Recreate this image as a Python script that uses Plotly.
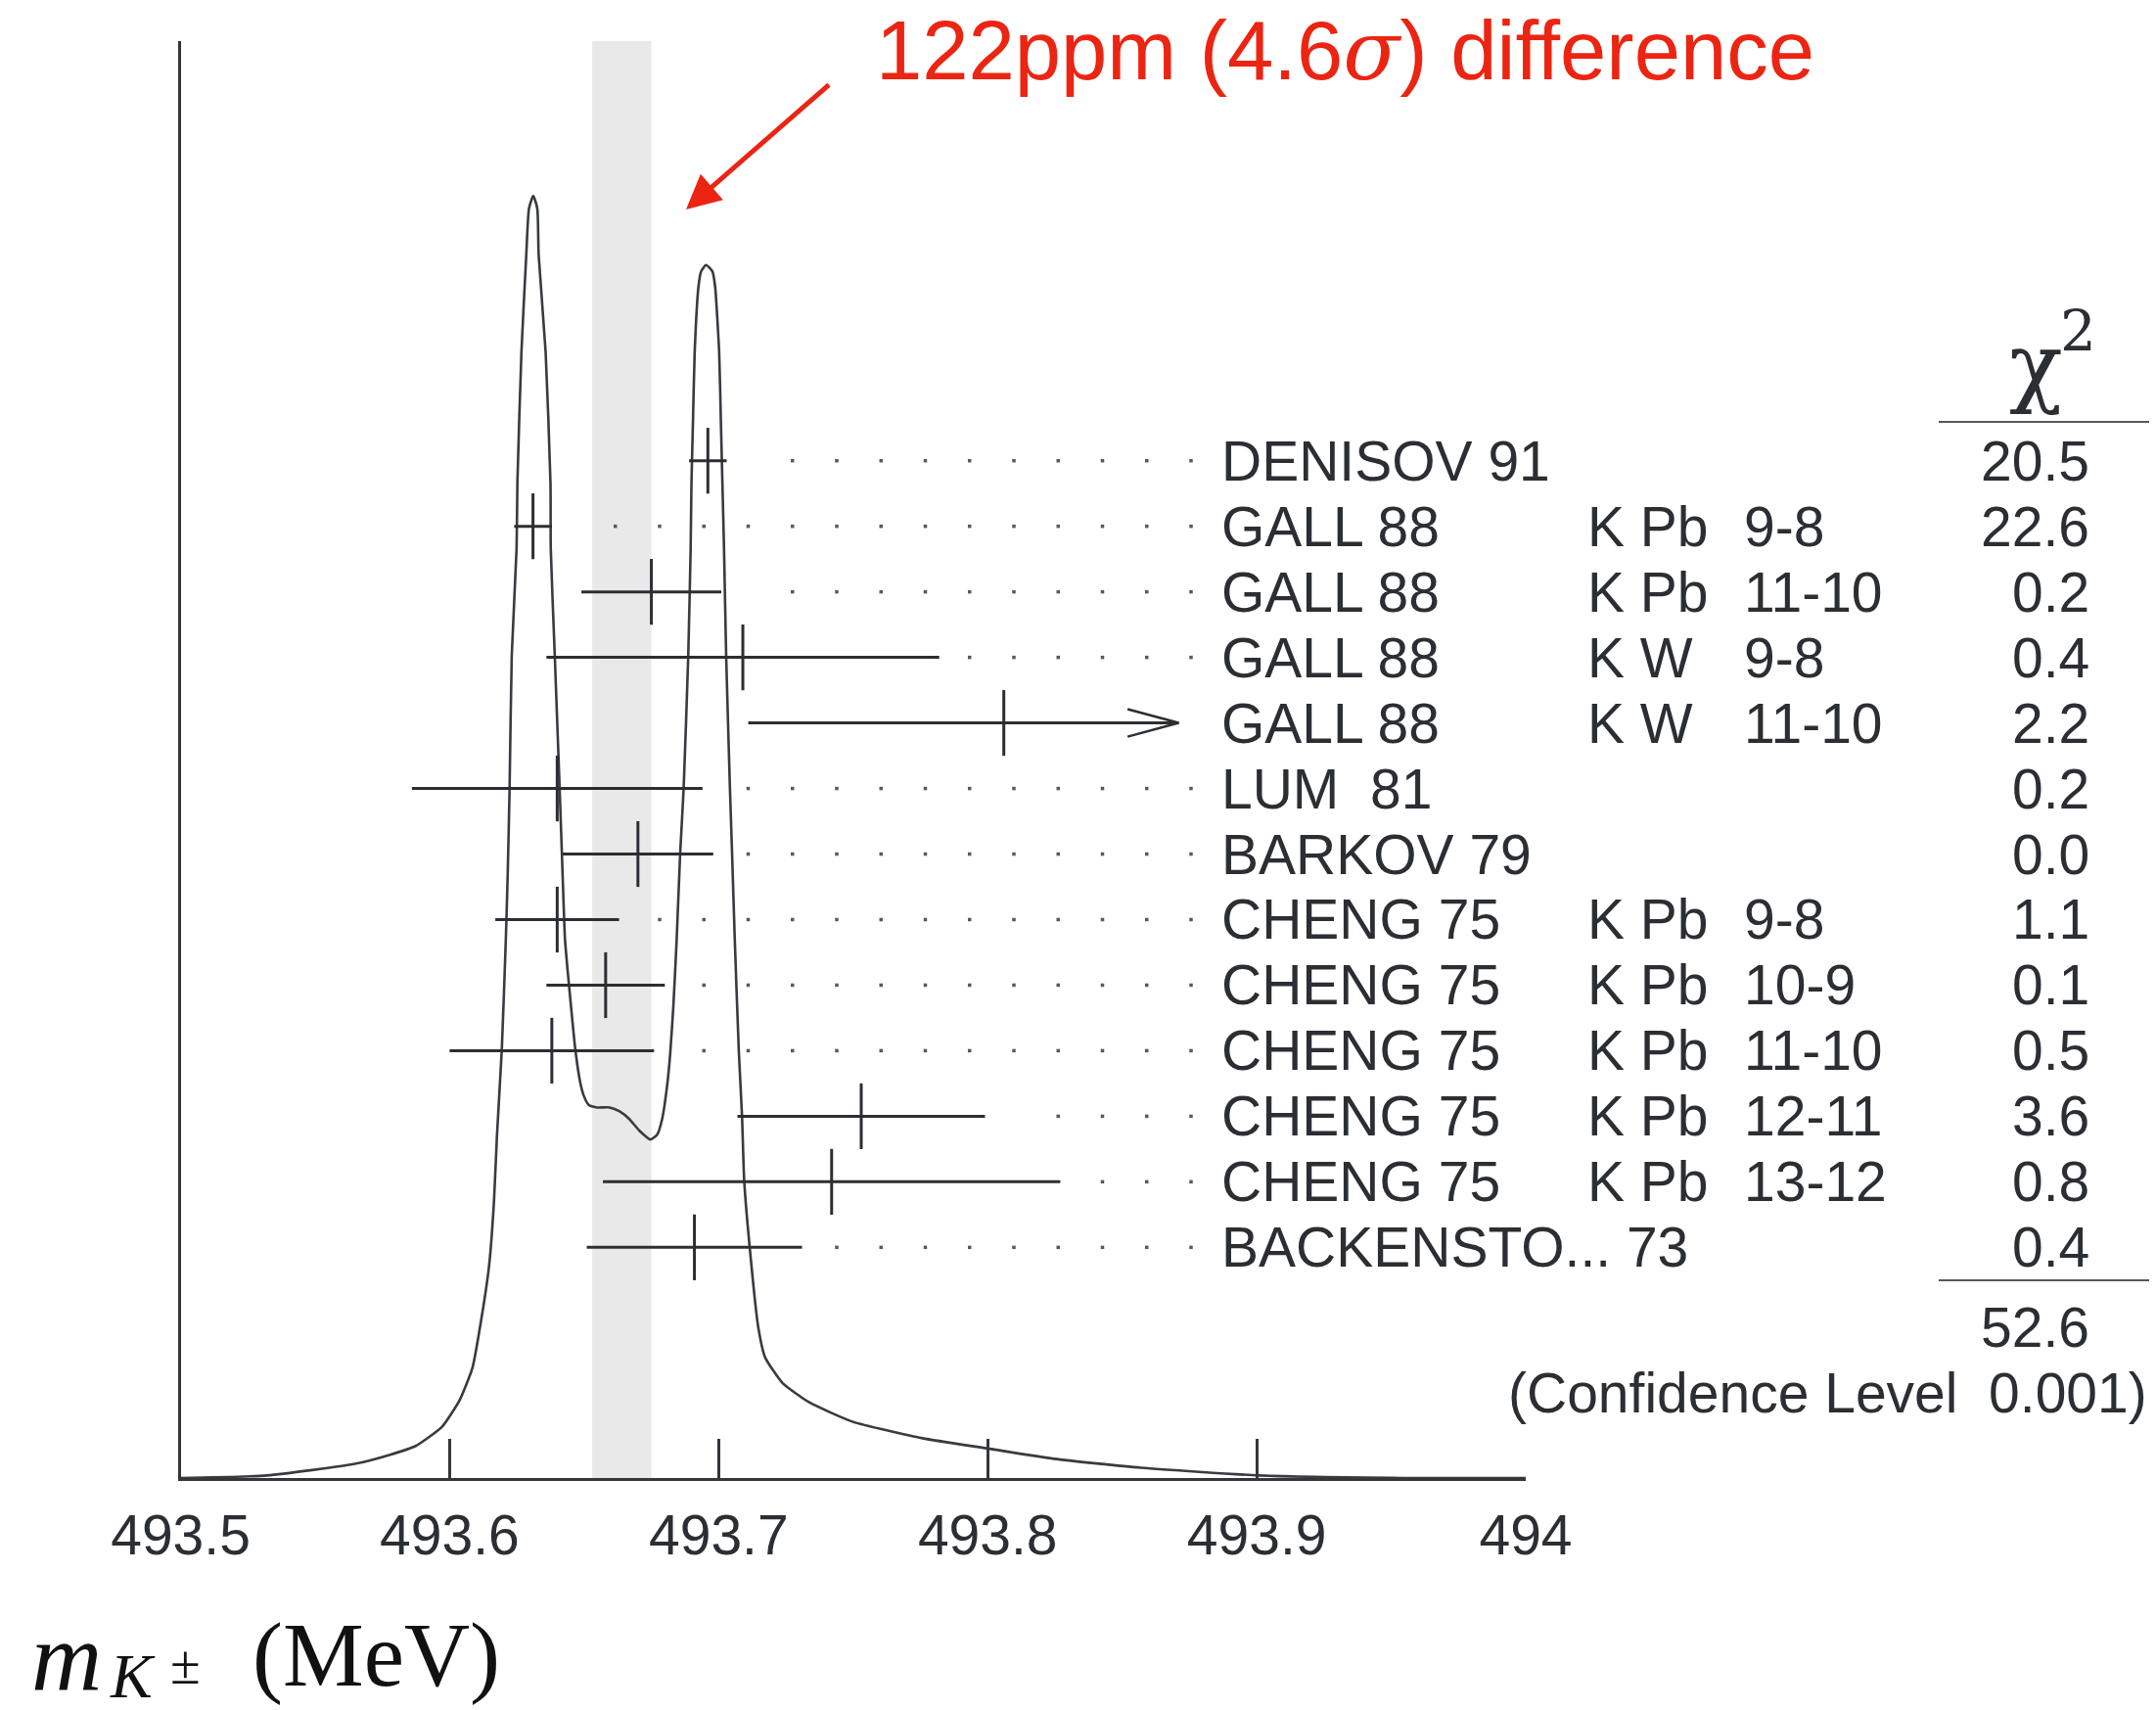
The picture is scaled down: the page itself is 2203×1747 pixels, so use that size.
import math
import plotly.graph_objects as go

# ---------------- measurements of the charged kaon mass ----------------
names = ["DENISOV 91", "GALL 88", "GALL 88", "GALL 88", "GALL 88", "LUM  81",
         "BARKOV 79", "CHENG 75", "CHENG 75", "CHENG 75", "CHENG 75", "CHENG 75",
         "BACKENSTO... 73"]
targets = ["", "K Pb", "K Pb", "K W", "K W", "", "", "K Pb", "K Pb", "K Pb",
           "K Pb", "K Pb", ""]
transitions = ["", "9-8", "11-10", "9-8", "11-10", "", "", "9-8", "10-9",
               "11-10", "12-11", "13-12", ""]
mass = [493.696, 493.631, 493.675, 493.709, 493.806, 493.640, 493.670,
        493.640, 493.658, 493.638, 493.753, 493.742, 493.691]
mass_err = [0.007, 0.007, 0.026, 0.073, 0.095, 0.054, 0.028,
            0.023, 0.022, 0.038, 0.046, 0.085, 0.040]
chi2 = ["20.5", "22.6", "0.2", "0.4", "2.2", "0.2", "0.0", "1.1", "0.1",
        "0.5", "3.6", "0.8", "0.4"]
chi2_total = "52.6"
confidence_level = "0.001"

# weighted average (shaded band)
avg_mass = 493.664
avg_err = 0.011

# ideogram curve (relative height, left peak = 1)
ideo_mass = [493.5000, 493.5321, 493.5647, 493.5776, 493.5874, 493.5972, 493.6038,
             493.6085, 493.6118, 493.6147, 493.6165, 493.6176, 493.6194, 493.6209,
             493.6216, 493.6223, 493.6231, 493.6249, 493.6252, 493.6267, 493.6285,
             493.6295, 493.6311, 493.6326, 493.6331, 493.6357, 493.6375, 493.6376,
             493.6391, 493.6409, 493.6420, 493.6429, 493.6444, 493.6468, 493.6486,
             493.6499, 493.6517, 493.6547, 493.6595, 493.6632, 493.6668, 493.6705,
             493.6747, 493.6772, 493.6790, 493.6808, 493.6820, 493.6832, 493.6844,
             493.6857, 493.6870, 493.6887, 493.6896, 493.6899, 493.6905, 493.6911,
             493.6925, 493.6935, 493.6953, 493.6977, 493.6987, 493.7002, 493.7008,
             493.7014, 493.7020, 493.7028, 493.7042, 493.7050, 493.7060, 493.7075,
             493.7087, 493.7095, 493.7115, 493.7147, 493.7173, 493.7238, 493.7337,
             493.7497, 493.7758, 493.8002, 493.8246, 493.8570, 493.9010, 493.9545,
             494.0000]
ideo_height = [0.000, 0.002, 0.011, 0.018, 0.025, 0.040, 0.061, 0.086, 0.124, 0.166,
               0.216, 0.267, 0.334, 0.420, 0.471, 0.538, 0.641, 0.725, 0.776, 0.878,
               0.954, 0.990, 1.000, 0.990, 0.954, 0.878, 0.776, 0.725, 0.641, 0.538,
               0.471, 0.420, 0.384, 0.333, 0.308, 0.298, 0.291, 0.289, 0.289, 0.286,
               0.280, 0.271, 0.264, 0.268, 0.280, 0.305, 0.331, 0.369, 0.420, 0.487,
               0.538, 0.641, 0.725, 0.776, 0.827, 0.878, 0.929, 0.941, 0.946, 0.941,
               0.929, 0.878, 0.827, 0.776, 0.725, 0.641, 0.538, 0.487, 0.420, 0.333,
               0.282, 0.232, 0.181, 0.118, 0.094, 0.074, 0.059, 0.044, 0.031, 0.023,
               0.015, 0.008, 0.002, 0.000, 0.000]

x_ticks = [493.5, 493.6, 493.7, 493.8, 493.9, 494.0]
x_tick_text = ["493.5", "493.6", "493.7", "493.8", "493.9", "494"]

note_text = "122ppm (4.6<span style=\"font-family:'DejaVu Serif'\"><i>σ</i></span>) difference"

# ---------------- layout helpers ----------------
W, H = 2203, 1747
INK = "#2b2e33"
RED = "#ec2412"
SANS = "Liberation Sans, Arial, Helvetica, sans-serif"
SERIF = "Liberation Serif, Times New Roman, serif"
DSERIF = "DejaVu Serif, serif"


def px(x):
    return x / W


def py(y):
    return 1 - y / H


X_DOMAIN = [px(184.5), px(1559.0)]
Y_DOMAIN = [py(1510), py(42)]
ROW0_Y, ROW_STEP = 470.7, 66.97           # pixel row geometry
ROW_RANGE = [(1510 - ROW0_Y) / ROW_STEP, (42 - ROW0_Y) / ROW_STEP]

BAR_CLIP = 493.871                        # bars beyond this end in an arrow
LEADER_ORIGIN, LEADER_STEP, LEADER_END = 493.6616, 0.016461, 493.876
LEADER_GAP = 0.011
rows = list(range(len(names)))

fig = go.Figure()

# ideogram
fig.add_trace(go.Scatter(
    x=ideo_mass, y=ideo_height, mode="lines",
    line=dict(color="#383b40", width=2.6, shape="spline", smoothing=0.5),
    hoverinfo="skip", showlegend=False))

# error bars with central ticks
err_plus = [min(e, BAR_CLIP - m) for m, e in zip(mass, mass_err)]
fig.add_trace(go.Scatter(
    x=mass, y=rows, yaxis="y2", mode="markers",
    marker=dict(symbol="line-ns", size=48, line=dict(width=3, color=INK), color=INK),
    error_x=dict(type="data", array=err_plus, arrayminus=mass_err,
                 symmetric=False, thickness=3, width=0, color=INK),
    hoverinfo="skip", showlegend=False))

# open arrowheads for clipped bars
chev_dx, chev_dy = 0.019, 0.21
cx, cy = [], []
for r, (m, e) in enumerate(zip(mass, mass_err)):
    if m + e > BAR_CLIP:
        cx += [BAR_CLIP - chev_dx, BAR_CLIP, BAR_CLIP - chev_dx, None]
        cy += [r - chev_dy, r, r + chev_dy, None]
fig.add_trace(go.Scatter(
    x=cx, y=cy, yaxis="y2", mode="lines", line=dict(color=INK, width=2.5),
    hoverinfo="skip", showlegend=False))

# dotted leaders towards the labels
k0 = math.ceil((493.5 - LEADER_ORIGIN) / LEADER_STEP)
k1 = math.floor((LEADER_END - LEADER_ORIGIN) / LEADER_STEP)
grid = [LEADER_ORIGIN + k * LEADER_STEP for k in range(k0, k1 + 1)]
dx, dy = [], []
for r, (m, e) in enumerate(zip(mass, mass_err)):
    for g in grid:
        if g >= m + e + LEADER_GAP:
            dx.append(g)
            dy.append(r)
fig.add_trace(go.Scatter(
    x=dx, y=dy, yaxis="y2", mode="markers",
    marker=dict(symbol="square", size=3.5, color="#555a60"),
    hoverinfo="skip", showlegend=False))

# weighted-average band
fig.add_shape(type="rect", xref="x", yref="paper",
              x0=avg_mass - avg_err, x1=avg_mass + avg_err,
              y0=Y_DOMAIN[0], y1=Y_DOMAIN[1],
              fillcolor="#e9e9e9", line=dict(width=0), layer="below")

# chi2 column rules
for yy in (431, 1308):
    fig.add_shape(type="line", xref="paper", yref="paper",
                  x0=px(1981), x1=px(2196), y0=py(yy), y1=py(yy),
                  line=dict(color="#55595e", width=2.2))

ann = []
for r in rows:
    ann.append(dict(x=px(1246), y=r, xref="paper", yref="y2", text=names[r],
                    xanchor="left", yanchor="middle", showarrow=False,
                    font=dict(family=SANS, size=57, color=INK)))
    if targets[r]:
        ann.append(dict(x=px(1620), y=r, xref="paper", yref="y2", text=targets[r],
                        xanchor="left", yanchor="middle", showarrow=False,
                        font=dict(family=SANS, size=57, color=INK)))
    if transitions[r]:
        ann.append(dict(x=px(1780), y=r, xref="paper", yref="y2", text=transitions[r],
                        xanchor="left", yanchor="middle", showarrow=False,
                        font=dict(family=SANS, size=57, color=INK)))
    ann.append(dict(x=px(2137), y=r, xref="paper", yref="y2", text=chi2[r],
                    xanchor="right", yanchor="middle", showarrow=False,
                    font=dict(family=SANS, size=57, color=INK)))

# chi2 header, total and confidence level
ann.append(dict(x=px(2080), y=py(372), xref="paper", yref="paper",
                text="χ", xanchor="center", yanchor="middle",
                showarrow=False, font=dict(family=DSERIF, size=90, color=INK)))
ann.append(dict(x=px(2123), y=py(338), xref="paper", yref="paper",
                text="2", xanchor="center", yanchor="middle",
                showarrow=False, font=dict(family=DSERIF, size=58, color=INK)))
ann.append(dict(x=px(2137), y=py(1356), xref="paper", yref="paper",
                text=chi2_total, xanchor="right", yanchor="middle", showarrow=False,
                font=dict(family=SANS, size=57, color=INK)))
ann.append(dict(x=px(2196), y=py(1423), xref="paper", yref="paper",
                text="(Confidence Level  " + confidence_level + ")",
                xanchor="right", yanchor="middle", showarrow=False,
                font=dict(family=SANS, size=57, color=INK)))

# axis title  m_{K±} (MeV)
ann.append(dict(x=px(30), y=py(1692), xref="paper", yref="paper", text="<i>m</i>",
                xanchor="left", yanchor="middle", showarrow=False,
                font=dict(family=SERIF, size=100, color="#111111")))
ann.append(dict(x=px(110), y=py(1712), xref="paper", yref="paper", text="<i>K</i>",
                xanchor="left", yanchor="middle", showarrow=False,
                font=dict(family=SERIF, size=64, color="#111111")))
ann.append(dict(x=px(172), y=py(1701), xref="paper", yref="paper", text="±",
                xanchor="left", yanchor="middle", showarrow=False,
                font=dict(family=SERIF, size=56, color="#111111")))
ann.append(dict(x=px(256), y=py(1690), xref="paper", yref="paper", text="(MeV)",
                xanchor="left", yanchor="middle", showarrow=False,
                font=dict(family=SERIF, size=93, color="#111111")))

# red note with arrow
ann.append(dict(x=px(893), y=py(52), xref="paper", yref="paper", text=note_text,
                xanchor="left", yanchor="middle", showarrow=False,
                font=dict(family=SANS, size=85, color=RED)))
ann.append(dict(x=px(701), y=py(214), xref="paper", yref="paper", text=" ",
                showarrow=True, ax=149, ay=-130, arrowhead=2, arrowsize=1.4,
                arrowwidth=5, arrowcolor=RED, font=dict(size=10)))

fig.update_layout(
    width=W, height=H, margin=dict(l=0, r=0, t=0, b=0, autoexpand=False),
    paper_bgcolor="white", plot_bgcolor="white", showlegend=False,
    xaxis=dict(domain=X_DOMAIN, range=[493.5, 494.0], anchor="y", automargin=False,
               showline=True, linecolor="#33363b", linewidth=3,
               ticks="inside", ticklen=40, tickwidth=2.5, tickcolor="#33363b",
               tickvals=x_ticks, ticktext=x_tick_text, ticklabelstandoff=7,
               tickfont=dict(family=SANS, size=57, color=INK),
               showgrid=False, zeroline=False),
    yaxis=dict(domain=Y_DOMAIN, range=[0, 1468 / 1310], anchor="x", automargin=False,
               showline=True, linecolor="#33363b", linewidth=3,
               showticklabels=False, ticks="", showgrid=False, zeroline=False),
    yaxis2=dict(overlaying="y", range=ROW_RANGE, visible=False, automargin=False,
                showgrid=False, zeroline=False),
    annotations=ann,
)

fig.write_html("out.html")
